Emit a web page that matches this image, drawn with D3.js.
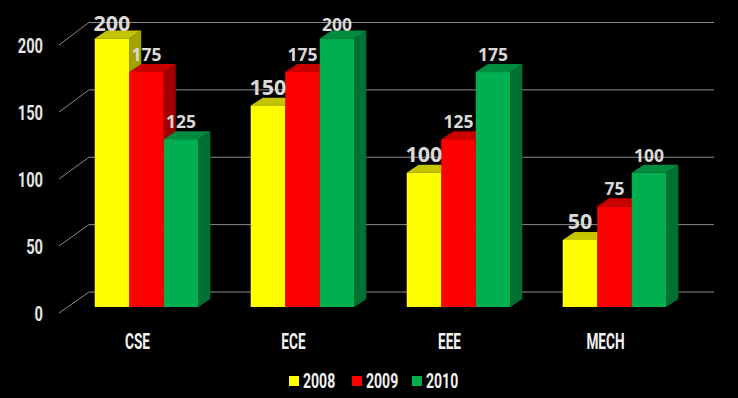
<!DOCTYPE html>
<html><head><meta charset="utf-8">
<script src="https://cdn.jsdelivr.net/npm/d3@7"></script>
<style>html,body{margin:0;padding:0;background:#000;}</style>
</head><body>
<svg id="c" width="738" height="398"></svg>
<script>
const categories = ["CSE", "ECE", "EEE", "MECH"];
const seriesNames = ["2008", "2009", "2010"];
const v2008 = [200, 150, 100, 50];
const v2009 = [175, 175, 125, 75];
const v2010 = [125, 200, 175, 100];
const yTicks = [0, 50, 100, 150, 200];

const seriesValues = [v2008, v2009, v2010];
const colors = {
  "2008": {front: "#FFFF00", top: "#C4C400", side: "#A3A300"},
  "2009": {front: "#FF0000", top: "#C80000", side: "#A00000"},
  "2010": {front: "#00B050", top: "#008C3F", side: "#007033"}
};

const svg = d3.select("#c");
svg.append("rect").attr("width", 738).attr("height", 398).attr("fill", "#000");

const narrow = "Roboto,'DejaVu Sans',sans-serif";
const labelFont = "'Open Sans','Liberation Sans',sans-serif";

// condensed text helper
function ctext(parent, x, y, txt, size, sx, anchor, fill) {
  return parent.append("text")
    .attr("transform", `translate(${x},${y}) scale(${sx},1)`)
    .attr("dy", "0.36em").attr("text-anchor", anchor)
    .attr("font-family", narrow).attr("font-weight", "bold").attr("font-size", size)
    .attr("fill", fill).text(txt);
}

// scales
const yBar = d3.scaleLinear().domain([0, 200]).range([307, 38.5]);
const yFront = d3.scaleLinear().domain([0, 200]).range([313, 45]);
const yBack = d3.scaleLinear().domain([0, 200]).range([292, 22.5]);
const x0 = d3.scaleBand().domain(categories).range([68.5, 692.5]).paddingInner(0.336).paddingOuter(0.168);
const x1 = d3.scaleBand().domain(seriesNames).range([0, x0.bandwidth()]);
const dx = 12, dy = -8;
const wallX0 = 59, wallX1 = 89, wallRight = 714;

// grid lines (back wall) and diagonal ticks
const grid = svg.append("g").attr("stroke", "#8c8c8c").attr("stroke-width", 1);
yTicks.forEach(t => {
  grid.append("line").attr("x1", wallX1).attr("x2", wallRight)
    .attr("y1", yBack(t)).attr("y2", yBack(t));
  grid.append("line").attr("x1", wallX0).attr("x2", wallX1)
    .attr("y1", yFront(t)).attr("y2", yBack(t));
});

// y tick labels
const yl = svg.append("g");
yTicks.forEach(t => ctext(yl, 43, yFront(t), t, 21, 0.7, "end", "#e6e6e6"));

// bars
const bars = svg.append("g");
const labels = [];
categories.forEach((cat, ci) => {
  seriesNames.forEach((s, si) => {
    const v = seriesValues[si][ci];
    const x = x0(cat) + x1(s), w = x1.bandwidth();
    const top = yBar(v), bot = yBar(0);
    const c = colors[s];
    bars.append("polygon")
      .attr("points", [[x + w, top], [x + w + dx, top + dy], [x + w + dx, bot + dy], [x + w, bot]].join(" "))
      .attr("fill", c.side);
    bars.append("polygon")
      .attr("points", [[x, top], [x + w, top], [x + w + dx, top + dy], [x + dx, top + dy]].join(" "))
      .attr("fill", c.top);
    bars.append("rect").attr("x", x).attr("y", top).attr("width", w).attr("height", bot - top)
      .attr("fill", c.front);
    labels.push({v, x: x + w / 2, y: Math.max(top - 11, 31), big: si === 0});
  });
});

// value labels
svg.append("g").selectAll("text").data(labels).join("text")
  .attr("x", d => d.x).attr("y", d => d.y)
  .attr("text-anchor", "middle")
  .attr("font-family", labelFont).attr("font-weight", "bold")
  .attr("font-size", d => d.big ? 21.5 : 17.5)
  .attr("fill", "#d9d9d9").text(d => d.v);

// category labels
const cl = svg.append("g");
categories.forEach(c => ctext(cl, x0(c) + x0.bandwidth() / 2 - 9, 341, c, 22, 0.62, "middle", "#f2f2f2"));

// legend
const legendX = [289, 352, 412];
const lg = svg.append("g");
seriesNames.forEach((s, i) => {
  lg.append("rect").attr("x", legendX[i]).attr("y", 376).attr("width", 10).attr("height", 10)
    .attr("fill", colors[s].front);
  ctext(lg, legendX[i] + 14, 381, s, 19.5, 0.72, "start", "#f2f2f2");
});
</script>
</body></html>
